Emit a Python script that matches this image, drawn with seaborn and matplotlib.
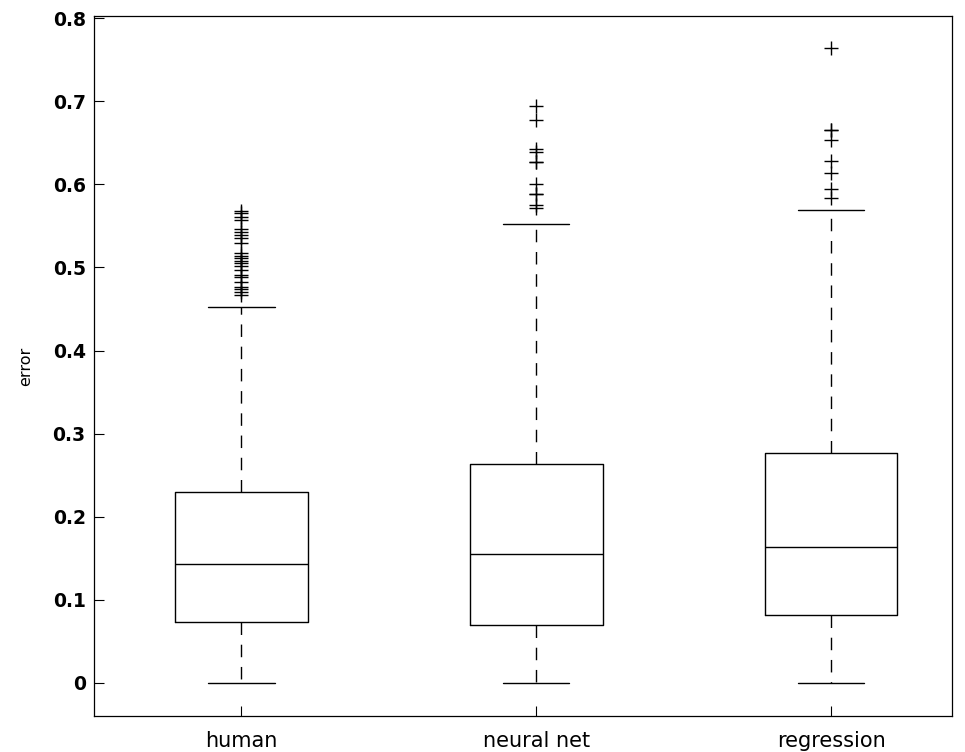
import numpy as np
import pandas as pd
import seaborn as sns
import matplotlib.pyplot as plt

# box summaries
methods = ["human", "neural net", "regression"]
whisker_low = [0.0, 0.0, 0.0]
q1 = [0.0726, 0.069, 0.081]
median = [0.1428, 0.1549, 0.1637]
q3 = [0.230, 0.2635, 0.2768]
whisker_high = [0.452, 0.552, 0.569]

outliers_human = [0.568, 0.565, 0.561, 0.557, 0.546, 0.543, 0.539, 0.535,
                  0.529, 0.517, 0.514, 0.511, 0.508, 0.505, 0.502, 0.497,
                  0.491, 0.488, 0.483, 0.477, 0.474, 0.471, 0.467]
outliers_nn = [0.694, 0.677, 0.642, 0.639, 0.627, 0.627, 0.600, 0.589,
               0.589, 0.575, 0.572]
outliers_reg = [0.764, 0.665, 0.665, 0.654, 0.628, 0.614, 0.594, 0.583]
outliers = [outliers_human, outliers_nn, outliers_reg]

# long-form table whose quartiles / whiskers give the boxes above
rep = 40
rows = []
for i, m in enumerate(methods):
    vals = ([whisker_low[i]] + [q1[i]] * rep + [median[i]] * rep
            + [q3[i]] * rep + [whisker_high[i]] + outliers[i])
    rows += [(m, v) for v in vals]
df = pd.DataFrame(rows, columns=["method", "error"])

sns.set_style("white")
plt.rcParams['font.family'] = ['DejaVu Sans']
plt.rcParams['text.color'] = 'black'
plt.rcParams['axes.labelcolor'] = 'black'
plt.rcParams['xtick.color'] = 'black'
plt.rcParams['ytick.color'] = 'black'

fig = plt.figure(figsize=(9.65, 7.52), dpi=100)
ax = fig.add_axes([94 / 965, 36 / 752, 858 / 965, 700 / 752])

sns.boxplot(data=df, x="method", y="error", order=methods, ax=ax,
            fill=False, color="black", linewidth=1.0, width=0.45,
            whis=1.5, fliersize=10.5,
            flierprops={"marker": "+", "markeredgewidth": 1.0,
                        "markeredgecolor": "black"},
            whiskerprops={"linestyle": (0, (9, 7))})

ax.set_xlim(-0.5, 2.41)
ax.set_ylim(-0.04, 0.8027)
ax.set_yticks(np.arange(0, 0.81, 0.1))
ax.set_yticklabels(["0"] + ["%.1f" % t for t in np.arange(0.1, 0.81, 0.1)],
                   fontsize=13.5, fontweight="bold")
ax.set_xticks(range(len(methods)))
ax.set_xticklabels(methods, fontsize=15)
ax.tick_params(direction="in", length=7, width=0.8, colors="black",
               pad=6, left=True, bottom=True)
ax.tick_params(axis="x", pad=11)
ax.set_xlabel("")
ax.set_ylabel("error", fontsize=11.5, labelpad=14)
for s in ax.spines.values():
    s.set_color("black")
    s.set_linewidth(0.9)

fig.savefig("out.png", dpi=100)
